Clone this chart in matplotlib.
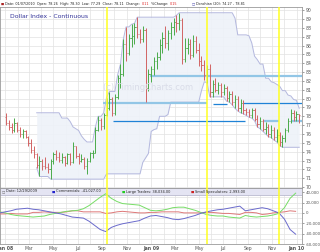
import matplotlib
matplotlib.use("Agg")
import matplotlib.pyplot as plt
import matplotlib.dates as mdates
import matplotlib.ticker as mticker
import pandas as pd

# weekly bars of the dollar index (continuous)
bar_dates = pd.date_range(end="2010-01-07", periods=106, freq="7D")
opens = [77.9, 77.2, 76.8, 76.5, 77.3, 76.4, 76.0, 76.3, 75.7, 75.0,
         74.2, 73.7, 72.5, 73.0, 72.4, 72.3, 72.0, 72.9, 73.7, 73.4,
         73.1, 73.4, 72.7, 73.7, 72.8, 74.6, 73.5, 72.9, 73.2, 72.4,
         73.0, 73.8, 73.9, 76.5, 77.6, 76.9, 78.2, 78.9, 80.0, 78.4,
         80.2, 82.3, 82.8, 86.2, 85.1, 86.8, 87.1, 88.1, 87.3, 86.7,
         87.8, 81.2, 82.8, 83.4, 84.2, 84.7, 86.1, 86.8, 86.3, 87.4,
         88.1, 88.7, 88.5, 88.9, 84.5, 85.7, 86.2, 84.9, 86.5, 85.5,
         84.2, 83.8, 82.7, 83.3, 80.8, 81.6, 81.0, 81.5, 80.7, 81.2,
         80.1, 80.5, 79.6, 80.0, 78.9, 79.5, 78.7, 78.5, 78.2, 78.7,
         77.7, 77.1, 77.5, 76.6, 76.8, 76.0, 76.5, 75.7, 75.9, 75.1,
         75.5, 76.4, 77.5, 78.4, 77.9, 78.26]
highs = [78.4, 77.6, 77.2, 77.8, 77.4, 76.8, 76.6, 76.4, 75.8, 75.4,
         74.6, 73.9, 73.5, 73.2, 73.4, 72.7, 73.2, 74.0, 74.2, 74.0,
         73.8, 73.5, 73.9, 73.9, 75.1, 74.7, 73.9, 73.7, 73.4, 73.3,
         74.0, 74.2, 76.8, 78.0, 77.8, 78.4, 80.1, 80.8, 80.2, 80.5,
         82.7, 83.9, 86.7, 88.1, 87.3, 88.4, 88.5, 89.2, 87.9, 88.2,
         88.0, 83.4, 83.7, 84.7, 85.3, 86.7, 87.5, 88.2, 87.7, 88.6,
         89.1, 89.4, 89.7, 89.1, 86.8, 86.9, 86.7, 87.2, 87.1, 86.3,
         84.8, 84.4, 83.8, 83.9, 82.1, 82.3, 81.9, 81.8, 81.6, 81.4,
         80.9, 80.9, 80.4, 80.3, 79.9, 79.8, 78.9, 78.8, 78.9, 78.9,
         78.2, 77.9, 77.7, 77.4, 77.1, 77.0, 76.8, 76.6, 76.2, 75.9,
         76.7, 77.8, 78.8, 78.7, 78.6, 78.30]
lows = [77.0, 76.5, 76.1, 76.2, 76.2, 75.7, 75.6, 75.5, 74.7, 73.9,
        73.3, 72.2, 71.2, 71.9, 72.0, 71.6, 70.9, 72.6, 73.1, 72.8,
        72.7, 72.4, 72.6, 72.5, 72.7, 73.3, 72.6, 72.8, 72.0, 71.5,
        72.8, 73.3, 73.8, 76.3, 76.5, 76.6, 78.0, 78.7, 78.0, 78.2,
        80.0, 81.2, 82.6, 84.3, 84.9, 85.8, 86.2, 86.9, 86.3, 86.4,
        79.6, 80.9, 81.9, 82.7, 83.3, 84.4, 85.2, 85.7, 85.5, 86.7,
        87.2, 87.5, 87.8, 83.9, 84.1, 85.0, 84.5, 84.7, 85.1, 83.7,
        83.1, 82.1, 81.8, 80.2, 80.2, 80.8, 80.5, 80.2, 80.4, 79.7,
        79.6, 79.3, 78.9, 78.6, 78.4, 78.3, 78.1, 77.9, 77.8, 77.5,
        76.8, 76.6, 76.3, 76.0, 75.7, 75.6, 75.3, 75.1, 74.7, 74.5,
        75.1, 76.2, 77.3, 77.5, 77.5, 77.29]
closes = [77.2, 76.8, 76.5, 77.3, 76.4, 76.0, 76.3, 75.7, 75.0, 74.2,
          73.7, 72.5, 73.0, 72.4, 72.3, 72.0, 72.9, 73.7, 73.4, 73.1,
          73.4, 72.7, 73.7, 72.8, 74.6, 73.5, 72.9, 73.2, 72.4, 73.0,
          73.8, 73.9, 76.5, 77.6, 76.9, 78.2, 78.9, 80.0, 78.4, 80.2,
          82.3, 82.8, 86.2, 85.1, 86.8, 87.1, 88.1, 87.3, 86.7, 87.8,
          81.2, 82.8, 83.4, 84.2, 84.7, 86.1, 86.8, 86.3, 87.4, 88.1,
          88.7, 88.5, 88.9, 84.5, 85.7, 86.2, 84.9, 86.5, 85.5, 84.2,
          83.8, 82.7, 83.3, 80.8, 81.6, 81.0, 81.5, 80.7, 81.2, 80.1,
          80.5, 79.6, 80.0, 78.9, 79.5, 78.7, 78.5, 78.2, 78.7, 77.7,
          77.1, 77.5, 76.6, 76.8, 76.0, 76.5, 75.7, 75.9, 75.1, 75.5,
          76.4, 77.5, 78.4, 77.9, 78.3, 78.11]

# COT net positions, every two weeks
cot_dates = pd.date_range("2007-12-18", periods=54, freq="14D")
commercials = [0, 2000, 4000, 7000, 8000, 9000, 7000, 6000, 4000, 2000,
               0, -2000, -5000, -8000, -9000, -10000, -16000, -24000, -32000, -36000,
               -28000, -24000, -21000, -19000, -17000, -15000, -10000, -6000, -5000, -7000,
               -9000, -12000, -13000, -11000, -8000, -5000, -1000, 2000, 4000, 6000,
               7000, 9000, 11000, 13000, 4000, 6000, 8000, 10000, 8000, 4000,
               0, -12000, -32000, -41027]
large_traders = [2000, 0, -3000, -5000, -6000, -7000, -8000, -7000, -6000, -3000,
                 -1000, 1000, 3000, 4000, 5000, 8000, 14000, 22000, 30000, 37000,
                 28000, 22000, 18000, 17000, 16000, 15000, 10000, 5000, 4000, 5000,
                 7000, 10000, 11000, 11000, 8000, 5000, 1000, -3000, -5000, -6000,
                 -6000, -8000, -9000, -10000, -5000, -7000, -8000, -7000, -6000, -4000,
                 -1000, 10000, 28000, 38034]
small_specs = [-2000, -2000, -1000, -2000, -2000, -2000, 1000, 1000, 2000, 1000,
               1000, 1000, 2000, 4000, 4000, 2000, 2000, 2000, 2000, -1000,
               0, 2000, 3000, 2000, 1000, 0, 0, 1000, 1000, 2000,
               2000, 2000, 2000, 0, 0, 0, 0, 1000, 1000, 0,
               -1000, -1000, -2000, -3000, 1000, 1000, 0, -3000, -2000, 0,
               1000, 2000, 4000, 2993]

yellow_dates = ["2008-09-12", "2009-05-20", "2009-11-18"]
# (level, from, to)
light_levels = [(79.5, "2008-09-02", "2009-05-20"), (82.5, "2008-12-28", "2010-01-14"),
                (77.5, "2009-10-07", "2009-11-18"), (77.5, "2009-12-18", "2010-01-14")]
dark_levels = [(79.4, "2009-06-04", "2009-07-11"), (79.5, "2009-08-18", "2010-01-14"),
               (77.5, "2008-09-27", "2009-08-23")]

donch_period = 20
donch_start = 11

W, H = 320, 252
fig = plt.figure(figsize=(W / 100, H / 100), dpi=100)
fig.patch.set_facecolor("white")

def fx(px):
    return px / W

def fy(py):
    return 1 - py / H

ax = fig.add_axes([0, fy(188), fx(302), (188 - 7) / H])
ax2 = fig.add_axes([0, fy(244), fx(302), (244 - 188) / H])

xmin = pd.Timestamp("2007-12-19")
xmax = pd.Timestamp("2010-01-14")
grid_col = "#e2e2e2"
spine_col = "#9a9a9a"
lab_col = "#555555"

for a in (ax, ax2):
    a.set_xlim(xmin, xmax)
    a.xaxis.set_minor_locator(mdates.MonthLocator())
    a.grid(True, which="both", axis="x", color=grid_col, lw=0.5, zorder=0)
    a.grid(True, which="both", axis="y", color=grid_col, lw=0.5, zorder=0)
    a.yaxis.tick_right()
    a.tick_params(axis="y", which="major", colors=lab_col, length=1.5, width=0.4, pad=1.2)
    a.tick_params(axis="y", which="minor", length=0)
    a.tick_params(axis="x", which="both", length=0)
    for s in a.spines.values():
        s.set_color(spine_col)
        s.set_linewidth(0.6)
    a.set_axisbelow(True)

month_ticks = pd.date_range("2008-01-01", "2010-01-01", freq="2MS")
month_labels = [d.strftime("%b %y") if d.month == 1 else d.strftime("%b") for d in month_ticks]

# price panel
ax.set_ylim(69.9, 90.35)
ax.yaxis.set_major_locator(mticker.MultipleLocator(1))
ax.tick_params(axis="y", labelsize=3.3)
ax.set_xticks(month_ticks)
ax.set_xticklabels([])

hi_s = pd.Series(highs).rolling(donch_period, min_periods=1).max()
lo_s = pd.Series(lows).rolling(donch_period, min_periods=1).min()
dd = bar_dates[donch_start:]
ax.fill_between(dd, lo_s[donch_start:], hi_s[donch_start:], color="#eef2f9", alpha=0.9, lw=0, zorder=1)
ax.plot(dd, hi_s[donch_start:], color="#b4b8de", lw=0.7, zorder=2)
ax.plot(dd, lo_s[donch_start:], color="#b4b8de", lw=0.7, zorder=2)

for lv, a0, a1 in light_levels:
    ax.hlines(lv, pd.Timestamp(a0), pd.Timestamp(a1), color="#92c6e6", lw=1.6, zorder=3)
for lv, a0, a1 in dark_levels:
    ax.hlines(lv, pd.Timestamp(a0), pd.Timestamp(a1), color="#1f82d6", lw=0.9, zorder=3)

cols = ["#4aaa4a" if c >= o else "#d26464" for o, c in zip(opens, closes)]
tick = pd.Timedelta(days=3)
ax.vlines(bar_dates, lows, highs, colors=cols, lw=0.7, zorder=4)
ax.hlines(opens, bar_dates - tick, bar_dates, colors=cols, lw=0.6, zorder=4)
ax.hlines(closes, bar_dates, bar_dates + tick, colors=cols, lw=0.6, zorder=4)

# COT panel
ax2.set_ylim(-60000, 48000)
ax2.yaxis.set_major_locator(mticker.FixedLocator([-60000, -40000, -20000, 0, 20000, 40000]))
ax2.yaxis.set_minor_locator(mticker.MultipleLocator(10000))
ax2.yaxis.set_major_formatter(mticker.FuncFormatter(lambda v, p: f"{int(v):,}"))
ax2.tick_params(axis="y", labelsize=2.8)
ax2.add_patch(plt.Rectangle((0, 1 - 7 / 56), 1, 7 / 56, transform=ax2.transAxes,
                            facecolor="#e4e4f3", edgecolor="#b0b0c8", lw=0.5, zorder=1))
ax2.plot(cot_dates, small_specs, color="#dd7777", lw=0.7, zorder=3)
ax2.plot(cot_dates, large_traders, color="#77dd66", lw=0.7, zorder=3)
ax2.plot(cot_dates, commercials, color="#6a6acc", lw=0.7, zorder=3)

ax2.set_xticks(month_ticks)
ax2.set_xticklabels(month_labels)
ax2.tick_params(axis="x", which="major", labelsize=3.3, colors=lab_col, pad=1.5)
for lbl, d in zip(ax2.get_xticklabels(), month_ticks):
    if d.month == 1:
        lbl.set_fontweight("bold")

for a in (ax, ax2):
    for d in yellow_dates:
        a.axvline(pd.Timestamp(d), color="#ffff22", lw=1.1, zorder=5)

# texts
def put_pieces(x, y, pieces, size):
    r = fig.canvas.get_renderer()
    for txt, col in pieces:
        t = fig.text(x, y, txt, color=col, fontsize=size, va="center", ha="left")
        x = t.get_window_extent(renderer=r).x1 / fig.bbox.width

put_pieces(fx(1), fy(3.6), [("\u25a0 ", "#aa2222"),
                            ("Date: 01/07/2010  Open: 78.26  High: 78.30  Low: 77.29  Close: 78.11  Change: ", "#222222"),
                            ("0.11", "#dd2222"), ("  %Change: ", "#222222"), ("0.15", "#dd2222")], 2.4)
put_pieces(fx(192), fy(3.6), [("\u25a1 ", "#4444aa"), ("Donchian (20): 74.27 - 78.81", "#222222")], 2.4)

fig.text(fx(10), fy(17), "Dollar Index - Continuous", color="#333399", fontsize=4.4, va="center", ha="left")
fig.text(fx(148), fy(88), "(c) TimingCharts.com", color="#d9dce8", fontsize=6, va="center", ha="center", zorder=0)

put_pieces(fx(2), fy(191.5), [("\u25a1 ", "#666666"), ("Date: 12/29/2009", "#222222")], 2.5)
put_pieces(fx(52), fy(191.5), [("\u25a0 ", "#2222cc"), ("Commercials: -41,027.00", "#222222")], 2.5)
put_pieces(fx(122), fy(191.5), [("\u25a0 ", "#22cc22"), ("Large Traders: 38,034.00", "#222222")], 2.5)
put_pieces(fx(191), fy(191.5), [("\u25a0 ", "#cc2222"), ("Small Speculators: 2,993.00", "#222222")], 2.5)

fig.savefig("out.png", dpi=100, facecolor="white")
